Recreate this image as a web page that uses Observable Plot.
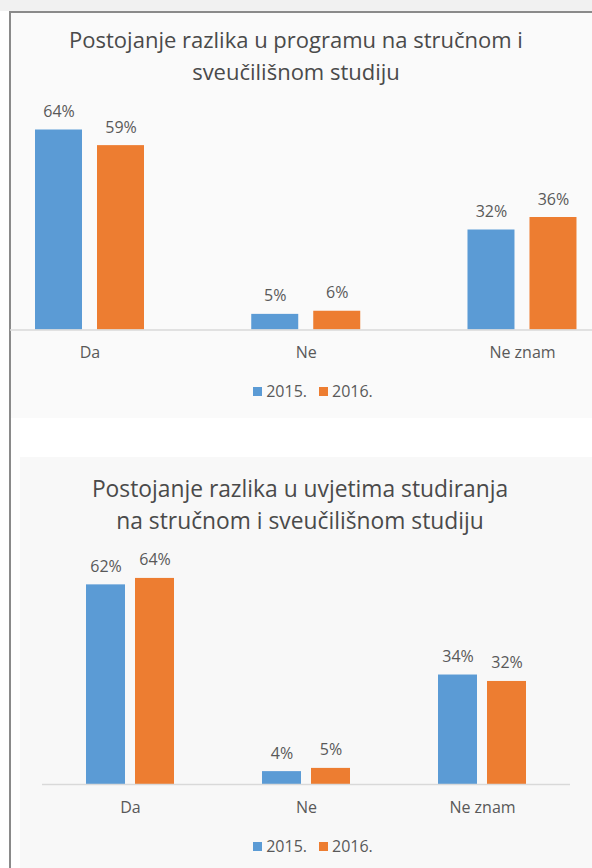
<!DOCTYPE html>
<html>
<head>
<meta charset="utf-8">
<script src="https://cdn.jsdelivr.net/npm/d3@7"></script>
<script src="https://cdn.jsdelivr.net/npm/@observablehq/plot@0.6"></script>
<style>
  html, body { margin: 0; padding: 0; background: #ffffff; }
  body { width: 592px; height: 868px; position: relative; overflow: hidden; font-family: "Open Sans", sans-serif; }
  .abs { position: absolute; }
  .title { position: absolute; left: 0; width: 592px; text-align: center; color: #4a4a4a; line-height: 32px; white-space: nowrap; }
  .legend { position: absolute; left: 0; width: 592px; display: flex; justify-content: center; align-items: center; color: #595959; font-size: 16px; }
  .legend .item { display: flex; align-items: center; margin: 0 6px; }
  .legend .sw { width: 9px; height: 9px; margin-right: 4px; }
</style>
</head>
<body>
<div class="abs" style="left:0;top:0;width:592px;height:11px;background:#f1f1f1"></div>
<div class="abs" style="left:11px;top:13px;width:581px;height:405px;background:#fafafa"></div>
<div class="abs" style="left:20px;top:457px;width:572px;height:411px;background:#f8f8f8"></div>
<div class="abs" style="left:9px;top:11px;width:583px;height:1.5px;background:#8a8a8a"></div>
<div class="abs" style="left:8.5px;top:11px;width:2px;height:857px;background:#8a8a8a"></div>

<div id="title1" class="title" style="top:23px; width:582px; left:5px; font-size:22px"></div>
<div id="chart1" class="abs" style="left:0;top:95px"></div>
<div id="legend1" class="legend" style="top:380px; left:17px"></div>

<div id="title2" class="title" style="top:473px; left:4px; font-size:22.8px"></div>
<div id="chart2" class="abs" style="left:0;top:545px"></div>
<div id="legend2" class="legend" style="top:835px; left:17px"></div>

<script>
// ---- data ----
const categories = ["Da", "Ne", "Ne znam"];
const years = ["2015.", "2016."];
const colors = ["#5B9BD5", "#ED7D31"];

const title1Lines = ["Postojanje razlika u programu na stručnom i", "sveučilišnom studiju"];
const chart1_2015 = [64, 5, 32];
const chart1_2016 = [59, 6, 36];

const title2Lines = ["Postojanje razlika u uvjetima studiranja", "na stručnom i sveučilišnom studiju"];
const chart2_2015 = [62, 4, 34];
const chart2_2016 = [64, 5, 32];

function rows(values, year) {
  return categories.map((c, i) => ({category: c, year, value: values[i]}));
}

function makeChart(v2015, v2016, opt) {
  const a = rows(v2015, years[0]);
  const b = rows(v2016, years[1]);
  const bw = opt.barWidth, gap = opt.gap;
  const group = bw * 2 + gap;
  const inset = group - bw;
  const off = (bw + gap) / 2;
  return Plot.plot({
    width: 592,
    height: opt.height,
    marginLeft: opt.marginLeft,
    marginRight: opt.marginRight,
    marginTop: opt.marginTop,
    marginBottom: opt.marginBottom,
    style: {background: "transparent", fontFamily: "Open Sans", color: "#595959"},
    x: {domain: categories, paddingInner: opt.paddingInner, paddingOuter: opt.paddingOuter, align: opt.align, round: false, label: null},
    y: {domain: [0, 70], axis: null},
    marks: [
      Plot.barY(a, {x: "category", y: "value", fill: colors[0], insetRight: inset}),
      Plot.barY(b, {x: "category", y: "value", fill: colors[1], insetLeft: inset}),
      Plot.ruleY([0], {stroke: "#d9d9d9", strokeWidth: 1.5}),
      Plot.text(a, {x: "category", y: "value", text: d => d.value + "%", dx: -off, dy: -13, lineAnchor: "bottom", fontSize: 16, fill: "#595959"}),
      Plot.text(b, {x: "category", y: "value", text: d => d.value + "%", dx: off, dy: -13, lineAnchor: "bottom", fontSize: 16, fill: "#595959"}),
      Plot.axisX({tickSize: 0, tickPadding: 17, fontSize: 16, fill: "#595959", label: null})
    ]
  });
}

function legend(el) {
  years.forEach((y, i) => {
    const item = document.createElement("div");
    item.className = "item";
    const sw = document.createElement("div");
    sw.className = "sw";
    sw.style.background = colors[i];
    const t = document.createElement("span");
    t.textContent = y;
    item.appendChild(sw); item.appendChild(t);
    el.appendChild(item);
  });
}

function title(el, lines) {
  lines.forEach(l => { const d = document.createElement("div"); d.textContent = l; el.appendChild(d); });
}

title(document.getElementById("title1"), title1Lines);
title(document.getElementById("title2"), title2Lines);

// chart 1: bars 47px, gap 15, band step ~216, frame 10..592
document.getElementById("chart1").appendChild(makeChart(chart1_2015, chart1_2016, {
  height: 280, marginLeft: 10, marginRight: 0, marginTop: 15.75, marginBottom: 45.5,
  barWidth: 47, gap: 15, paddingInner: 1 - 109 / 216.25, paddingOuter: 0.0937, align: 0.617
}));

// chart 2: bars 39px, gap 10, frame 42..570
document.getElementById("chart2").appendChild(makeChart(chart2_2015, chart2_2016, {
  height: 290, marginLeft: 42, marginRight: 22, marginTop: 13.6, marginBottom: 51,
  barWidth: 39, gap: 10, paddingInner: 0.5, paddingOuter: 0.25, align: 0.5
}));

legend(document.getElementById("legend1"));
legend(document.getElementById("legend2"));
</script>
</body>
</html>
